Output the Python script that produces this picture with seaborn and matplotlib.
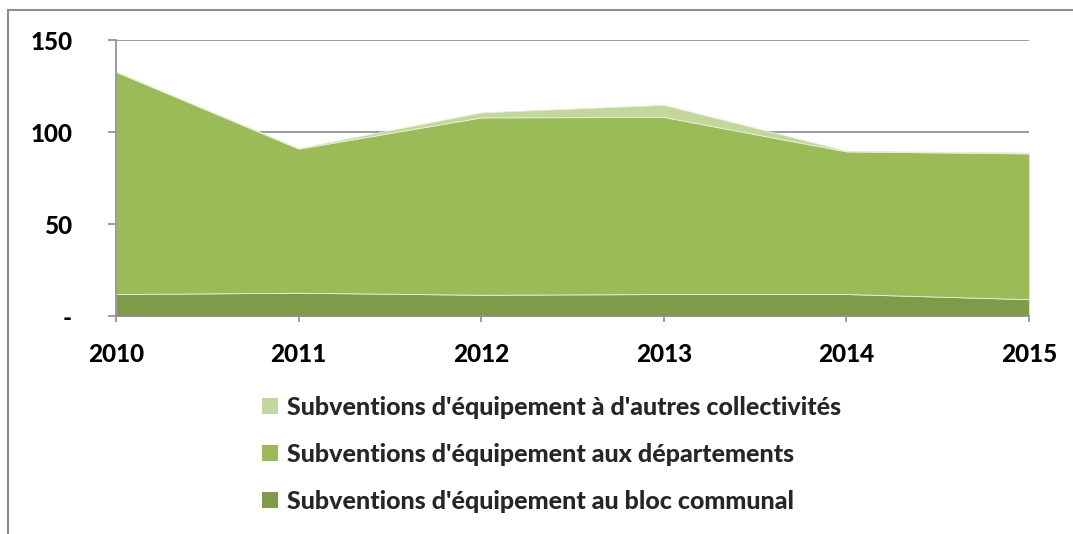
import matplotlib
matplotlib.use("Agg")
import matplotlib.pyplot as plt
import seaborn as sns
import pandas as pd
from matplotlib.patches import Patch
from matplotlib.lines import Line2D

years = [2010, 2011, 2012, 2013, 2014, 2015]
bloc_communal = [12.0, 12.7, 11.6, 12.0, 12.0, 9.2]
departements = [120.8, 78.3, 96.4, 96.2, 77.5, 79.2]
autres_collectivites = [0.0, 0.3, 2.7, 6.6, 0.3, 0.5]

labels = [
    "Subventions d'équipement au bloc communal",
    "Subventions d'équipement aux départements",
    "Subventions d'équipement à d'autres collectivités",
]
colors = ["#7F9A48", "#9BBB59", "#C3D69B"]
y_ticks = [0, 50, 100, 150]
y_ticklabels = ["-", "50", "100", "150"]

df = pd.DataFrame({
    "annee": years,
    labels[0]: bloc_communal,
    labels[1]: departements,
    labels[2]: autres_collectivites,
})

sns.set_theme(style="white")
plt.rcParams["font.family"] = ["Lato", "DejaVu Sans"]

FS = 17.5
FS_LEG = 18
WEIGHT = 900

fig = plt.figure(figsize=(10.73, 5.34), dpi=100)
ax = fig.add_axes([0.1081, 0.408, 0.851, 0.517])

ax.stackplot(df["annee"], df[labels[0]], df[labels[1]], df[labels[2]],
             colors=colors, linewidth=0.6, edgecolor="#E8EFD8", zorder=2)

ax.set_xlim(years[0], years[-1])
ax.set_ylim(0, 150)
ax.set_yticks(y_ticks)
ax.set_yticklabels(y_ticklabels)
ax.set_xticks(years)
ax.set_xticklabels([str(y) for y in years])

grid_c = "#8C8C8C"
for v in y_ticks[1:]:
    ax.axhline(v, color=grid_c, lw=1.2, zorder=1)

for s in ["top", "right"]:
    ax.spines[s].set_visible(False)
for s in ["left", "bottom"]:
    ax.spines[s].set_color(grid_c)
    ax.spines[s].set_linewidth(1.2)
    ax.spines[s].set_zorder(3)

ax.tick_params(axis="y", direction="out", length=5.5, width=1.2, color=grid_c,
               pad=26, labelsize=FS, left=True)
ax.tick_params(axis="x", direction="out", length=4, width=1.2, color=grid_c,
               pad=15, labelsize=FS, bottom=True)
for t in ax.get_xticklabels() + ax.get_yticklabels():
    t.set_fontweight(WEIGHT)
    t.set_color("black")

handles = [Patch(facecolor=colors[i], edgecolor="none") for i in (2, 1, 0)]
leg_labels = [labels[i] for i in (2, 1, 0)]
leg = fig.legend(handles, leg_labels, loc="upper left",
                 bbox_to_anchor=(0.235, 0.277), frameon=False,
                 prop={"weight": WEIGHT, "size": FS_LEG},
                 handlelength=0.63, handleheight=0.63, handletextpad=0.35,
                 labelspacing=0.95, borderaxespad=0)

# outer frame lines (top and left)
fig.add_artist(Line2D([8 / 1073, 1.0], [1 - 10 / 534, 1 - 10 / 534],
                      color="#8C8C8C", lw=1.5, transform=fig.transFigure))
fig.add_artist(Line2D([8 / 1073, 8 / 1073], [0.0, 1 - 10 / 534],
                      color="#8C8C8C", lw=1.5, transform=fig.transFigure))

fig.savefig("out.png", dpi=100, facecolor="white")
